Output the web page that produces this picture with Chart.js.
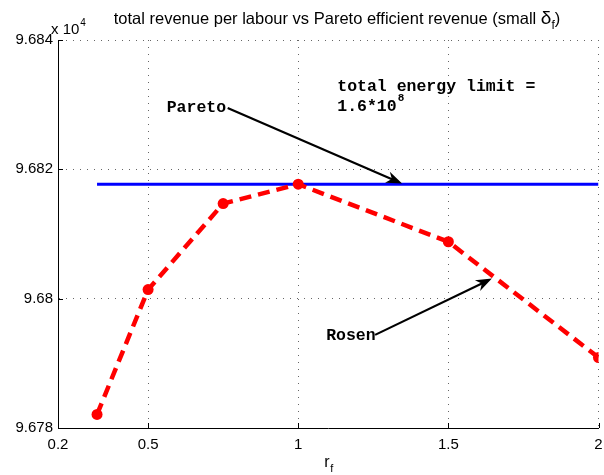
<!DOCTYPE html>
<html>
<head>
<meta charset="utf-8">
<script src="https://cdn.jsdelivr.net/npm/chart.js@4/dist/chart.umd.min.js"></script>
<style>
  body { margin: 0; background: #fff; }
  canvas { display: block; }
</style>
</head>
<body>
<canvas id="c" width="604" height="475"></canvas>
<script>
// data (y values in units of 10^4)
const rf = [0.33, 0.5, 0.75, 1, 1.5, 2];
const rosenRevenue = [9.67821, 9.68014, 9.68147, 9.68177, 9.68088, 9.67909];
const paretoX = [0.33, 2];
const paretoRevenue = [9.68177, 9.68177];
const xTicks = [0.2, 0.5, 1, 1.5, 2];
const yTicks = [9.678, 9.68, 9.682, 9.684];

const SANS = '"Liberation Sans", Arial, Helvetica, sans-serif';
const MONO = '"Liberation Mono", "Courier New", monospace';

// annotations in data coords
const notes = {
  paretoText: { x: 0.562, y: 9.68295, text: "Pareto" },
  paretoArrow: { from: [0.765, 9.68295], to: [1.346, 9.68178] },
  energy1: { x: 1.13, y: 9.68327, text: "total energy limit =" },
  energy2: { x: 1.13, y: 9.68296, text: "1.6*10", sup: "8" },
  rosenText: { x: 1.093, y: 9.67943, text: "Rosen" },
  rosenArrow: { from: [1.256, 9.67944], to: [1.645, 9.68031] },
};

function arrow(ctx, x0, y0, x1, y1) {
  const a = Math.atan2(y1 - y0, x1 - x0);
  const len = 16, w = 6;
  ctx.beginPath();
  ctx.moveTo(x0, y0);
  ctx.lineTo(x1 - Math.cos(a) * 6, y1 - Math.sin(a) * 6);
  ctx.stroke();
  const bx = x1 - Math.cos(a) * len, by = y1 - Math.sin(a) * len;
  const nx = x1 - Math.cos(a) * len * 0.7, ny = y1 - Math.sin(a) * len * 0.7;
  ctx.beginPath();
  ctx.moveTo(x1, y1);
  ctx.lineTo(bx - Math.sin(a) * w, by + Math.cos(a) * w);
  ctx.lineTo(nx, ny);
  ctx.lineTo(bx + Math.sin(a) * w, by - Math.cos(a) * w);
  ctx.closePath();
  ctx.fill();
}

const decorPlugin = {
  id: "decor",
  afterDraw(chart) {
    const { ctx, chartArea: ca, scales } = chart;
    const xs = scales.x, ys = scales.y;
    ctx.save();

    // inward ticks
    ctx.strokeStyle = "#000";
    ctx.lineWidth = 1;
    ctx.beginPath();
    xTicks.forEach(v => {
      const px = Math.round(xs.getPixelForValue(v)) + 0.5;
      ctx.moveTo(px, ca.bottom);
      ctx.lineTo(px, ca.bottom - 5);
    });
    yTicks.forEach(v => {
      const py = Math.round(ys.getPixelForValue(v)) + 0.5;
      ctx.moveTo(ca.left, py);
      ctx.lineTo(ca.left + 5, py);
    });
    ctx.stroke();

    // title
    ctx.fillStyle = "#000";
    ctx.textBaseline = "alphabetic";
    ctx.textAlign = "left";
    ctx.font = "16.5px " + SANS;
    const t1 = "total revenue per labour vs Pareto efficient revenue (small ";
    const w1 = ctx.measureText(t1).width;
    ctx.font = "19px " + SANS;
    const wd = ctx.measureText("δ").width;
    ctx.font = "12px " + SANS;
    const wf = ctx.measureText("f").width;
    ctx.font = "16.5px " + SANS;
    const wp = ctx.measureText(")").width;
    let tx = 337 - (w1 + wd + wf + wp) / 2;
    const tb = 24;
    ctx.fillText(t1, tx, tb); tx += w1;
    ctx.font = "19px " + SANS;
    ctx.fillText("δ", tx, tb); tx += wd;
    ctx.font = "12px " + SANS;
    ctx.fillText("f", tx, tb + 5); tx += wf;
    ctx.font = "16.5px " + SANS;
    ctx.fillText(")", tx, tb);

    // exponent label
    ctx.font = "15px " + SANS;
    ctx.fillText("x 10", 51, 34);
    const wx = ctx.measureText("x 10").width;
    ctx.font = "10px " + SANS;
    ctx.fillText("4", 51 + wx + 1, 26);

    // x axis label r_f
    const cx = (ca.left + ca.right) / 2;
    ctx.font = "16px " + SANS;
    ctx.fillText("r", cx - 4, 467);
    ctx.font = "11px " + SANS;
    ctx.fillText("f", cx + 2, 472);

    // annotations
    ctx.font = "bold 16.5px " + MONO;
    ctx.textBaseline = "middle";
    const P = (x, y) => [xs.getPixelForValue(x), ys.getPixelForValue(y)];
    [notes.paretoText, notes.energy1, notes.rosenText].forEach(n => {
      const [px, py] = P(n.x, n.y);
      ctx.fillText(n.text, px, py);
    });
    const [ex, ey] = P(notes.energy2.x, notes.energy2.y);
    ctx.fillText(notes.energy2.text, ex, ey);
    const we = ctx.measureText(notes.energy2.text).width;
    ctx.font = "bold 11px " + MONO;
    ctx.fillText(notes.energy2.sup, ex + we + 1, ey - 9);

    ctx.lineWidth = 2.2;
    ctx.strokeStyle = "#000";
    ctx.fillStyle = "#000";
    [notes.paretoArrow, notes.rosenArrow].forEach(a => {
      const [x0, y0] = P(a.from[0], a.from[1]);
      const [x1, y1] = P(a.to[0], a.to[1]);
      arrow(ctx, x0, y0, x1, y1);
    });
    ctx.restore();
  },
};

new Chart(document.getElementById("c"), {
  type: "line",
  data: {
    datasets: [
      {
        label: "Rosen",
        data: rf.map((x, i) => ({ x, y: rosenRevenue[i] })),
        borderColor: "#ff0000",
        backgroundColor: "#ff0000",
        borderWidth: 4.5,
        borderDash: [12, 7],
        pointRadius: 5.5,
        pointBorderWidth: 0,
        pointBackgroundColor: "#ff0000",
        tension: 0,
        order: 0,
      },
      {
        label: "Pareto",
        data: paretoX.map((x, i) => ({ x, y: paretoRevenue[i] })),
        borderColor: "#0000ff",
        borderWidth: 3,
        pointRadius: 0,
        tension: 0,
        order: 1,
      },
    ],
  },
  options: {
    responsive: false,
    animation: false,
    devicePixelRatio: 1,
    layout: { padding: { top: 40, right: 4, left: 0, bottom: 0 } },
    plugins: {
      legend: { display: false },
      title: { display: false },
      tooltip: { enabled: false },
    },
    scales: {
      x: {
        type: "linear",
        min: 0.2,
        max: 2,
        afterBuildTicks: s => { s.ticks = xTicks.map(v => ({ value: v })); },
        afterFit: s => { s.height = 47; s.paddingLeft = 0; s.paddingRight = 0; },
        ticks: {
          color: "#000",
          font: { family: SANS, size: 15 },
          padding: 8,
          maxRotation: 0,
          callback: v => String(v),
        },
        grid: { color: "#666", drawTicks: false },
        border: { display: true, color: "#000", dash: [1, 6] },
      },
      y: {
        type: "linear",
        min: 9.678,
        max: 9.684,
        afterBuildTicks: s => { s.ticks = yTicks.map(v => ({ value: v })); },
        afterFit: s => { s.width = 58; s.paddingTop = 0; s.paddingBottom = 0; },
        ticks: {
          color: "#000",
          font: { family: SANS, size: 15 },
          padding: 5,
          callback: v => String(parseFloat(Number(v).toFixed(3))),
        },
        grid: { color: "#666", drawTicks: false },
        border: { display: true, color: "#000", dash: [1, 6] },
      },
    },
  },
  plugins: [decorPlugin],
});
</script>
</body>
</html>
